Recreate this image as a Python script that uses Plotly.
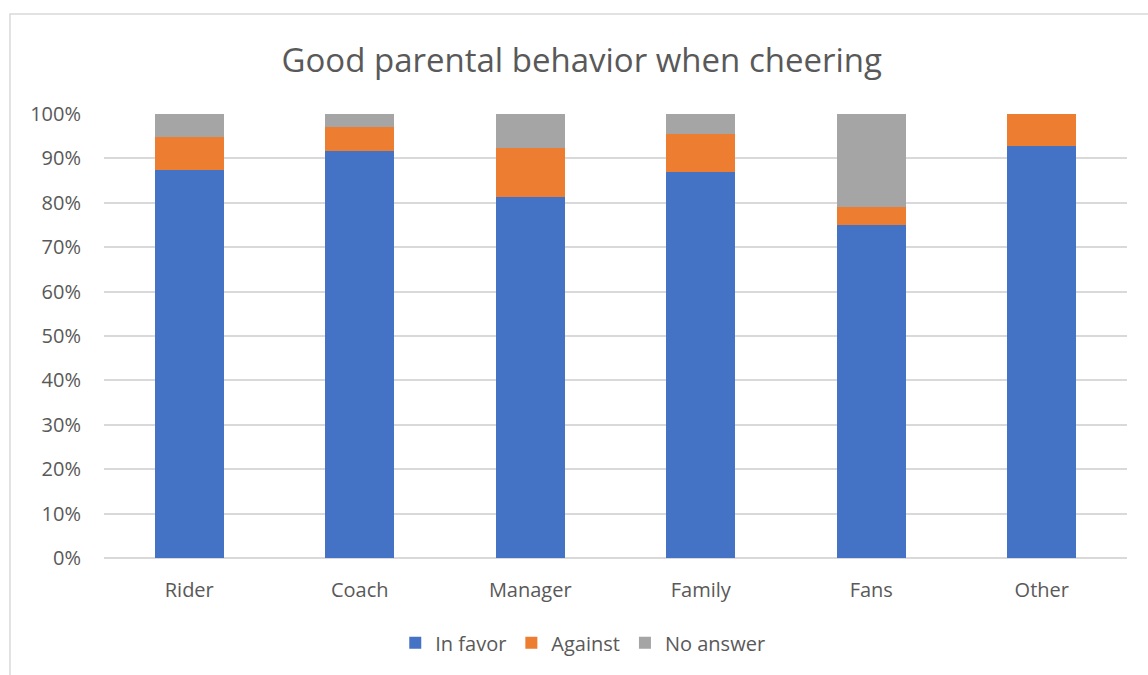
import plotly.graph_objects as go

# Survey responses per group, as percentages
categories = ["Rider", "Coach", "Manager", "Family", "Fans", "Other"]
in_favor = [87.5, 91.6, 81.4, 87.0, 75.0, 92.9]
against = [7.3, 5.5, 11.0, 8.6, 4.1, 7.1]
no_answer = [5.2, 2.9, 7.6, 4.4, 20.9, 0.0]

series_names = ["In favor", "Against", "No answer"]
series_colors = ["#4472C4", "#ED7D31", "#A5A5A5"]
tick_vals = list(range(0, 101, 10))
tick_text = [f"{v}%" for v in tick_vals]

FONT = "Open Sans, Noto Sans, sans-serif"
TEXT_COLOR = "#595959"

fig = go.Figure()
for name, vals, color in zip(series_names, [in_favor, against, no_answer], series_colors):
    fig.add_trace(go.Bar(
        x=categories, y=vals, name=name,
        marker=dict(color=color, line=dict(width=0)),
    ))

fig.update_layout(
    barmode="stack",
    bargap=0.595,
    width=1148, height=675,
    margin=dict(l=104, r=21, t=114, b=117),
    paper_bgcolor="white", plot_bgcolor="white",
    font=dict(family=FONT, color=TEXT_COLOR, size=20),
    title=dict(
        text="Good parental behavior when cheering",
        x=0.467, xanchor="center", xref="paper",
        y=1 - 60 / 675, yref="container", yanchor="middle",
        font=dict(family=FONT, size=33, color=TEXT_COLOR),
    ),
    legend=dict(
        orientation="h", x=0.468, xanchor="center",
        y=-0.191, yanchor="middle",
        font=dict(size=20, color=TEXT_COLOR),
        traceorder="normal",
        itemwidth=30,
    ),
    xaxis=dict(
        showgrid=False, showline=False, ticks="",
        ticklabelstandoff=18,
        tickfont=dict(size=20, color=TEXT_COLOR),
    ),
    yaxis=dict(
        range=[0, 100], tickvals=tick_vals, ticktext=tick_text,
        showgrid=True, gridcolor="#d9d9d9", gridwidth=1.5,
        zeroline=True, zerolinecolor="#d9d9d9", zerolinewidth=1.5,
        showline=False, ticks="",
        ticklabelstandoff=22,
        tickfont=dict(size=20, color=TEXT_COLOR),
    ),
    showlegend=True,
)

# Chart frame
fig.add_shape(
    type="rect", xref="paper", yref="paper",
    x0=-0.0919, x1=1.03, y0=-0.3, y1=1.2252,
    line=dict(color="#d9d9d9", width=1.5), fillcolor="rgba(0,0,0,0)",
    layer="below",
)

fig.write_html("out.html")
